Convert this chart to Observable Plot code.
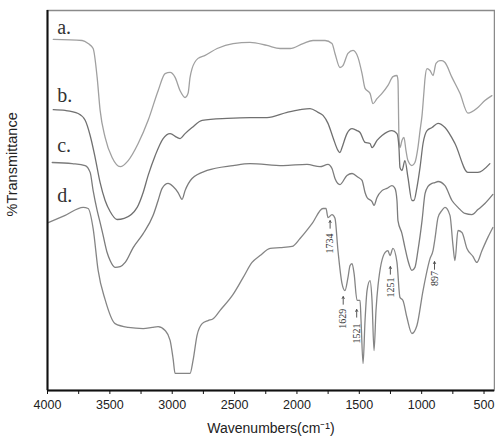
<!DOCTYPE html>
<html>
<head>
<meta charset="utf-8">
<script src="https://cdn.jsdelivr.net/npm/d3@7"></script>
<script src="https://cdn.jsdelivr.net/npm/@observablehq/plot@0.6"></script>
<style>
  html, body { margin: 0; padding: 0; background: #fff; }
  #chart { width: 495px; height: 440px; }
</style>
</head>
<body>
<div id="chart"></div>
<script>
// Wavenumber (cm-1) / %Transmittance (arbitrary)
const curveA = [
  [3954, 92.4], [3722, 92.1], [3674, 91.3], [3634, 90.0], [3602, 82.4], [3578, 73.7], [3538, 66.6],
  [3482, 61.3], [3417, 58.9], [3353, 60.5], [3273, 65.0], [3193, 71.1], [3113, 78.9], [3057, 83.4],
  [3017, 83.7], [2977, 82.4], [2937, 78.9], [2897, 77.1], [2873, 78.2], [2857, 82.4], [2841, 84.7],
  [2793, 87.4], [2736, 88.2], [2640, 90.0], [2512, 91.3], [2376, 91.6], [2240, 90.8], [2135, 90.0],
  [2055, 90.0], [1951, 91.3], [1871, 92.1], [1775, 92.1], [1719, 91.3], [1695, 88.7], [1655, 85.0],
  [1631, 85.5], [1591, 88.7], [1550, 89.5], [1510, 87.6], [1478, 83.4], [1454, 79.5], [1414, 78.2],
  [1390, 75.5], [1358, 76.8], [1318, 78.2], [1270, 80.3], [1230, 82.6], [1198, 82.9], [1190, 81.6],
  [1182, 66.6], [1174, 63.9], [1158, 65.8], [1142, 66.6], [1126, 63.2], [1110, 60.5], [1078, 59.2],
  [1054, 60.0], [1030, 63.9], [1013, 68.4], [997, 72.4], [981, 78.9], [973, 82.1], [957, 84.7],
  [933, 84.2], [909, 82.9], [885, 86.1], [853, 86.8], [837, 86.8], [813, 86.3], [757, 82.4],
  [693, 78.2], [629, 73.0], [549, 74.5], [493, 76.3], [437, 77.6]
];
const curveB = [
  [3954, 73.9], [3858, 73.7], [3754, 72.9], [3698, 71.1], [3658, 67.1], [3618, 61.3], [3578, 54.7],
  [3538, 50.0], [3498, 47.1], [3442, 45.0], [3385, 45.3], [3281, 48.2], [3233, 52.1], [3193, 56.6],
  [3137, 61.8], [3073, 66.3], [3017, 67.6], [2961, 66.6], [2937, 66.3], [2897, 67.6], [2841, 69.2],
  [2760, 71.1], [2560, 71.6], [2376, 71.8], [2240, 71.8], [2079, 73.2], [1975, 73.9], [1895, 74.2],
  [1831, 73.2], [1791, 72.4], [1751, 70.3], [1711, 66.6], [1671, 63.2], [1655, 62.6], [1639, 63.9],
  [1599, 67.6], [1558, 68.9], [1518, 68.4], [1494, 67.9], [1454, 65.3], [1414, 65.0], [1398, 63.9],
  [1358, 65.8], [1318, 67.1], [1238, 68.4], [1198, 67.6], [1182, 63.9], [1174, 58.7], [1158, 57.9],
  [1134, 60.5], [1110, 56.1], [1078, 50.0], [1062, 50.0], [1038, 53.4], [1013, 58.7], [989, 65.0],
  [957, 68.4], [917, 69.2], [869, 70.3], [813, 69.2], [733, 65.0], [629, 57.4], [549, 57.4], [453, 59.7]
];
const curveC = [
  [3962, 60.0], [3802, 59.7], [3698, 59.2], [3658, 57.4], [3634, 52.6], [3602, 47.4], [3578, 44.2],
  [3554, 40.8], [3522, 36.3], [3498, 34.2], [3458, 32.4], [3417, 32.6], [3377, 33.7], [3313, 37.6],
  [3233, 41.3], [3153, 46.1], [3113, 50.0], [3081, 53.2], [3033, 54.5], [2993, 53.7], [2953, 52.1],
  [2921, 50.3], [2897, 52.6], [2841, 55.8], [2720, 57.9], [2512, 59.2], [2376, 59.7], [2111, 59.2],
  [1919, 59.5], [1815, 58.9], [1751, 59.5], [1719, 58.4], [1695, 55.8], [1655, 54.2], [1599, 56.6],
  [1558, 57.1], [1510, 56.1], [1478, 55.3], [1454, 52.1], [1438, 50.8], [1398, 49.7], [1382, 48.7],
  [1358, 50.8], [1318, 52.6], [1278, 53.2], [1238, 53.9], [1214, 53.2], [1198, 50.0], [1190, 44.7],
  [1158, 41.3], [1134, 37.6], [1110, 34.2], [1078, 31.6], [1054, 32.4], [1030, 36.8], [997, 44.7],
  [973, 51.8], [949, 53.7], [917, 54.5], [893, 54.7], [869, 55.0], [813, 53.9], [757, 50.0],
  [709, 48.2], [653, 46.6], [597, 46.3], [549, 47.6], [493, 49.2], [429, 51.6]
];
const curveD = [
  [3994, 44.2], [3858, 46.1], [3714, 48.2], [3674, 47.9], [3634, 42.6], [3594, 31.6], [3538, 23.9],
  [3458, 17.6], [3353, 16.6], [3233, 16.3], [3161, 16.6], [3113, 16.8], [3057, 15.8], [3017, 13.2],
  [2993, 8.4], [2977, 4.5], [2857, 4.5], [2833, 7.9], [2801, 14.5], [2760, 17.6], [2712, 18.4],
  [2672, 18.9], [2616, 21.1], [2512, 25.3], [2432, 29.7], [2360, 33.7], [2296, 35.5], [2215, 37.4],
  [2135, 37.6], [2039, 37.9], [1975, 40.0], [1879, 43.9], [1791, 47.9], [1767, 47.9], [1751, 45.5],
  [1719, 46.3], [1695, 45.3], [1671, 36.8], [1639, 28.2], [1615, 26.3], [1591, 29.7], [1574, 32.9],
  [1558, 33.4], [1542, 30.8], [1518, 23.7], [1494, 23.7], [1486, 18.4], [1470, 7.1], [1454, 18.4],
  [1438, 26.3], [1414, 28.9], [1398, 23.7], [1382, 10.5], [1366, 21.1], [1350, 27.6], [1294, 36.3],
  [1270, 36.8], [1254, 35.5], [1230, 37.4], [1198, 33.7], [1174, 24.5], [1150, 23.7], [1118, 19.2],
  [1078, 15.0], [1038, 17.1], [989, 26.3], [933, 34.7], [909, 36.8], [893, 40.0], [869, 45.5],
  [837, 47.4], [813, 48.2], [773, 46.1], [749, 38.2], [733, 34.2], [709, 42.1], [677, 41.6],
  [637, 37.4], [589, 35.3], [557, 33.7], [517, 36.8], [469, 40.3], [429, 42.9]
];

const seriesNames = ["a.", "b.", "c.", "d."];
const seriesColors = ["#a0a0a0", "#707070", "#7c7c7c", "#858585"];
const seriesCurves = [curveA, curveB, curveC, curveD];
const labelWn = [3922, 3922, 3922, 3922];
const labelT = [95.5, 77.6, 64.5, 51.3];

const peakLabels = ["1734", "1629", "1521", "1251", "897"];
const peakWn = [1734, 1629, 1521, 1251, 897];
const peakArrowT = [43.7, 23.7, 20.3, 31.6, 32.9];
const peakTextT = [38.7, 18.9, 15.0, 27.1, 29.5];

const majorTicks = [4000, 3500, 3000, 2500, 2000, 1500, 1000, 500];
const minorTicks = [3750, 3250, 2750, 2250, 1750, 1250, 750];

const lineMarks = seriesCurves.map((c, i) =>
  Plot.line(c.map(([wn, t]) => ({wn, t})), {x: "wn", y: "t", stroke: seriesColors[i], strokeWidth: 1.3, curve: "monotone-x"})
);
const curveLabelData = seriesNames.map((n, i) => ({n, wn: labelWn[i], t: labelT[i]}));
const peakData = peakLabels.map((l, i) => ({l, wn: peakWn[i], ta: peakArrowT[i], tt: peakTextT[i]}));

const chart = Plot.plot({
  width: 495,
  height: 440,
  marginLeft: 47,
  marginRight: 1,
  marginTop: 10,
  marginBottom: 50,
  style: {background: "#fff", fontFamily: "'Liberation Sans', Arial, sans-serif", color: "#222"},
  x: {domain: [4000, 416]},
  y: {domain: [0, 100], axis: null},
  marks: [
    Plot.frame({stroke: "#8a8a8a", strokeWidth: 1.5}),
    ...lineMarks,
    Plot.arrow(peakData, {x1: "wn", x2: "wn", y1: (d) => d.ta - 1.0, y2: (d) => d.ta + 1.0, stroke: "#444", strokeWidth: 0.9, headLength: 3.5}),
    Plot.text(peakData, {x: "wn", y: "tt", text: "l", rotate: -90, fontSize: 10, fontFamily: "'Liberation Serif', 'DejaVu Serif', serif", fill: "#333"}),
    Plot.text(curveLabelData, {x: "wn", y: "t", text: "n", textAnchor: "start", fontSize: 20, fontFamily: "'Liberation Serif', 'DejaVu Serif', serif", fill: "#333"}),
    Plot.ruleX([4000], {stroke: "#111", strokeWidth: 2, y1: 0, y2: 100}),
    Plot.ruleY([0], {stroke: "#111", strokeWidth: 2}),
    Plot.axisX({ticks: minorTicks, tickSize: 4, tickFormat: () => "", label: null, stroke: "#111"}),
    Plot.axisX({ticks: majorTicks, tickSize: 4, tickPadding: 6, tickFormat: "d", label: null, fontSize: 12.5, fill: "#222", stroke: "#111"}),
    Plot.text(["Wavenumbers(cm⁻¹)"], {frameAnchor: "bottom", dy: 42, fontSize: 14, fill: "#222"}),
    Plot.text(["%Transmittance"], {frameAnchor: "left", dx: -35, dy: 16, rotate: -90, fontSize: 14.5, fill: "#222"})
  ]
});
document.getElementById("chart").append(chart);
</script>
</body>
</html>
